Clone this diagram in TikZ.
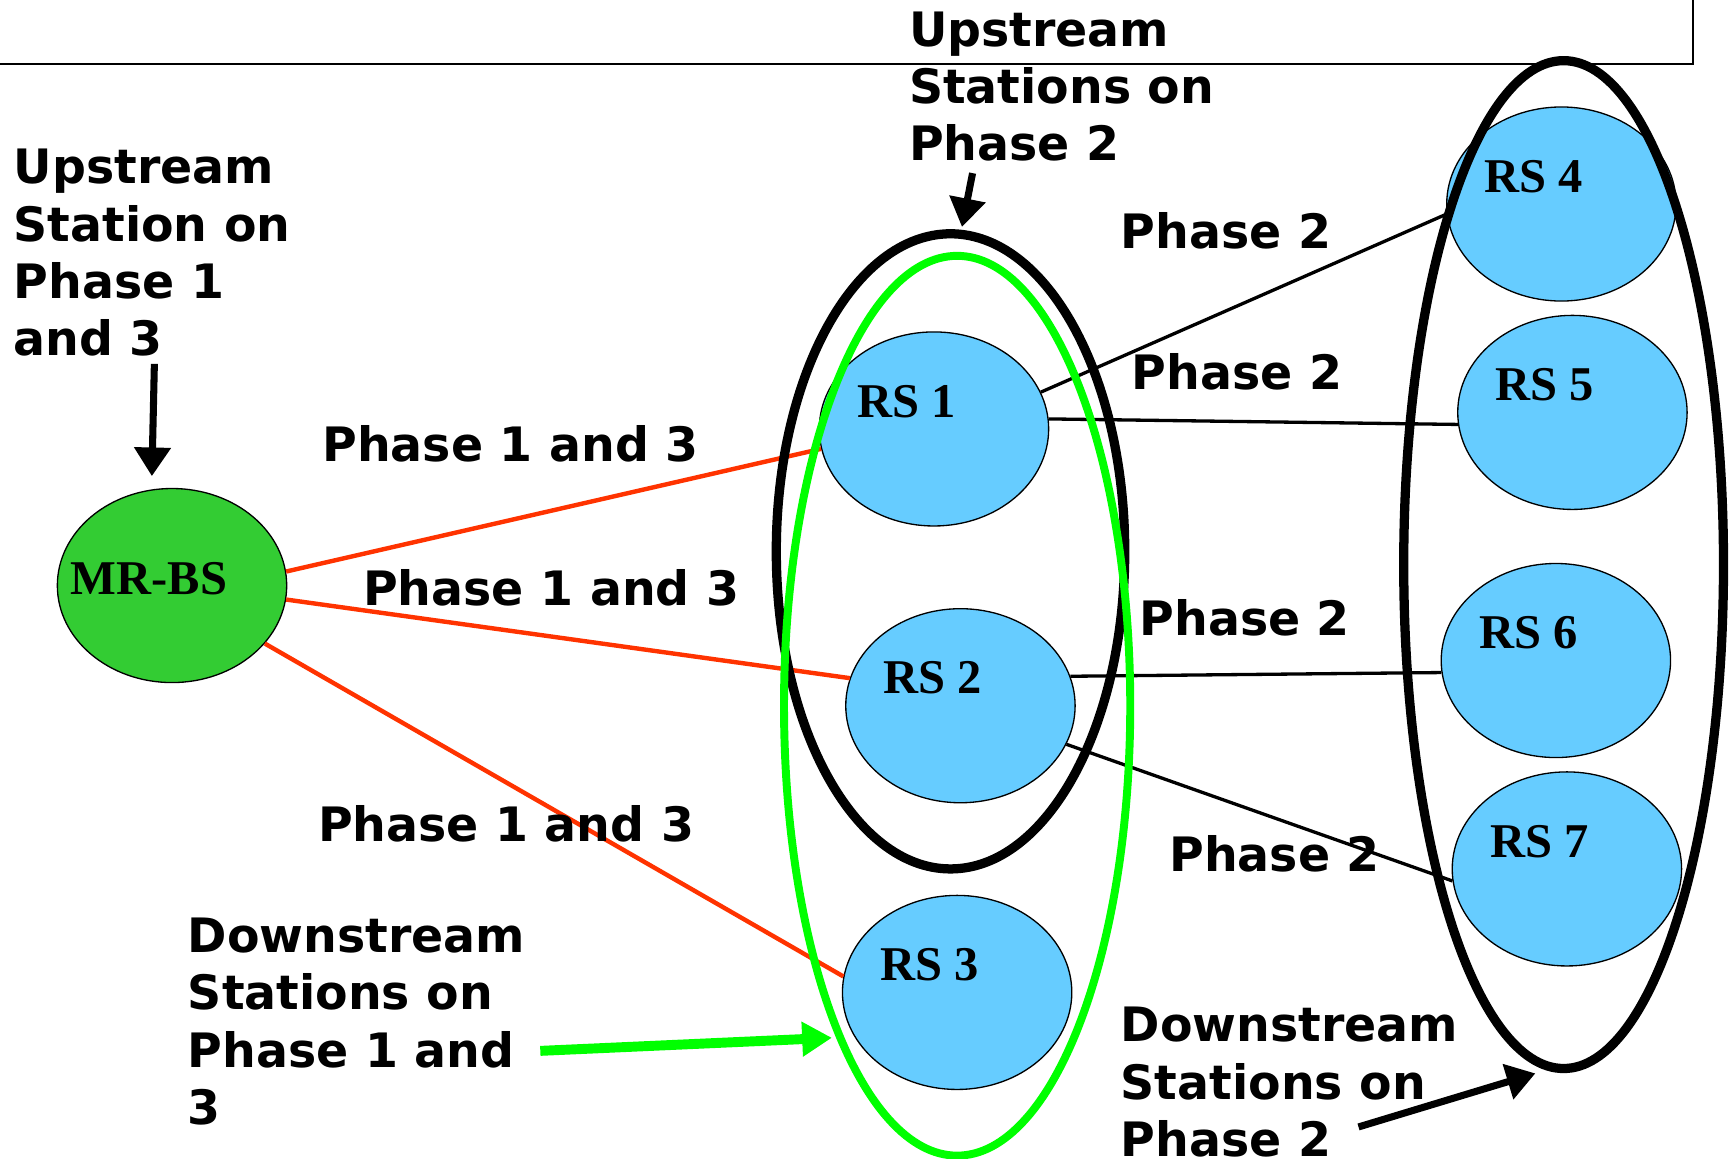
\documentclass[tikz,border=0pt]{standalone}
\usepackage{fontspec}
\setmainfont{Liberation Serif}
\newfontfamily\lblfont{DejaVu Sans}
\usetikzlibrary{shapes.geometric,arrows.meta}

\definecolor{rsblue}{RGB}{102,204,255}
\definecolor{bsgreen}{RGB}{51,204,51}
\definecolor{linkred}{RGB}{255,51,0}
\definecolor{ringgreen}{RGB}{0,255,0}

\tikzset{
  rsname/.style={font=\bfseries\fontsize{22}{26}\selectfont},
  station/.style={ellipse, draw, line width=0.6pt, fill=rsblue, inner sep=0pt,
    minimum width=104pt, minimum height=88pt,
    label={[rsname, xshift=-12.5pt, yshift=12.5pt]center:#1}},
  basestation/.style={ellipse, draw, line width=0.6pt, fill=bsgreen, inner sep=0pt,
    minimum width=104pt, minimum height=88pt,
    label={[rsname, xshift=-10.5pt, yshift=3pt]center:#1}},
  ring/.style={ellipse, draw, line width=4.2pt, inner sep=0pt},
  redlink/.style={linkred, line width=2pt},
  blacklink/.style={line width=1.5pt},
  lbl/.style={font=\lblfont\bfseries\fontsize{21.5}{26}\selectfont, anchor=north west, inner sep=0pt, align=left},
  bigarrow/.style={line width=3.2pt, -{Triangle[length=13pt,width=16pt]}},
  greenarrow/.style={ringgreen, line width=4.5pt, -{Triangle[length=13.5pt,width=15pt]}}
}

\begin{document}
\begin{tikzpicture}[x=0.5pt,y=-0.5pt]
	\useasboundingbox (0,0) rectangle (1568,1051);
	%% frame at the top
	\draw[line width=0.8pt] (0,58) -- (1535,58) -- (1535,0);
	%% stations
	\node[basestation=MR-BS] (mrbs) at (156,531) {};
	\node[station=RS 1] (rs1) at (847,389) {};
	\node[station=RS 2] (rs2) at (871,640) {};
	\node[station=RS 3] (rs3) at (868,900) {};
	\node[station=RS 4] (rs4) at (1416,185) {};
	\node[station=RS 5] (rs5) at (1426,374) {};
	\node[station=RS 6] (rs6) at (1411,599) {};
	\node[station=RS 7] (rs7) at (1421,788) {};
	%% links
	\draw[redlink] (mrbs.7) -- (rs1.190);
	\draw[redlink] (mrbs.-7) -- (rs2.166);
	\draw[redlink] (mrbs.-32) -- (rs3.172);
	\draw[blacklink] (rs1.19) -- (rs4.185);
	\draw[blacklink] (rs1.5) -- (rs5.186);
	\draw[blacklink] (rs2.15) -- (rs6.186);
	\draw[blacklink] (rs2.-20) -- (rs7.186);
	%% groups
	\node[ring, minimum width=158pt, minimum height=288pt] (grpUp) at (862,500) {};
	\node[ring, minimum width=145pt, minimum height=457pt] (grpRS) at (1418,512) {};
	\node[ring, ringgreen, line width=3.6pt, minimum width=157pt, minimum height=408pt] (grpDn) at (868,640) {};
	%% texts
	\node[lbl] (upBS) at (12,135) {Upstream\\Station on\\Phase 1\\and 3};
	\node[lbl] (upRS) at (824,10) {Upstream\\Stations on\\Phase 2};
	\node[lbl] (dnBS) at (170,832) {Downstream\\Stations on\\Phase 1 and\\3};
	\node[lbl] (dnRS) at (1016,913) {Downstream\\Stations on\\Phase 2};
	\node[lbl] (pA) at (292,385) {Phase 1 and 3};
	\node[lbl] (pB) at (329,516) {Phase 1 and 3};
	\node[lbl] (pC) at (288,730) {Phase 1 and 3};
	\node[lbl] (pD) at (1016,192) {Phase 2};
	\node[lbl] (pE) at (1026,320) {Phase 2};
	\node[lbl] (pF) at (1033,543) {Phase 2};
	\node[lbl] (pG) at (1060,757) {Phase 2};
	%% arrows
	\coordinate (upBStail) at (140,330);
	\coordinate (upRStail) at (882,157);
	\coordinate (dnBStail) at (490,953);
	\coordinate (dnRStail) at (1232,1022);
	\draw[bigarrow, shorten >=6pt] (upBStail) -- (mrbs.102);
	\draw[bigarrow, shorten >=1pt] (upRStail) -- ([xshift=5pt]grpUp.north);
	\draw[greenarrow, shorten >=2pt] (dnBStail) -- (grpDn.250);
	\draw[bigarrow, shorten >=5pt] (dnRStail) -- (grpRS.268);
\end{tikzpicture}
\end{document}
